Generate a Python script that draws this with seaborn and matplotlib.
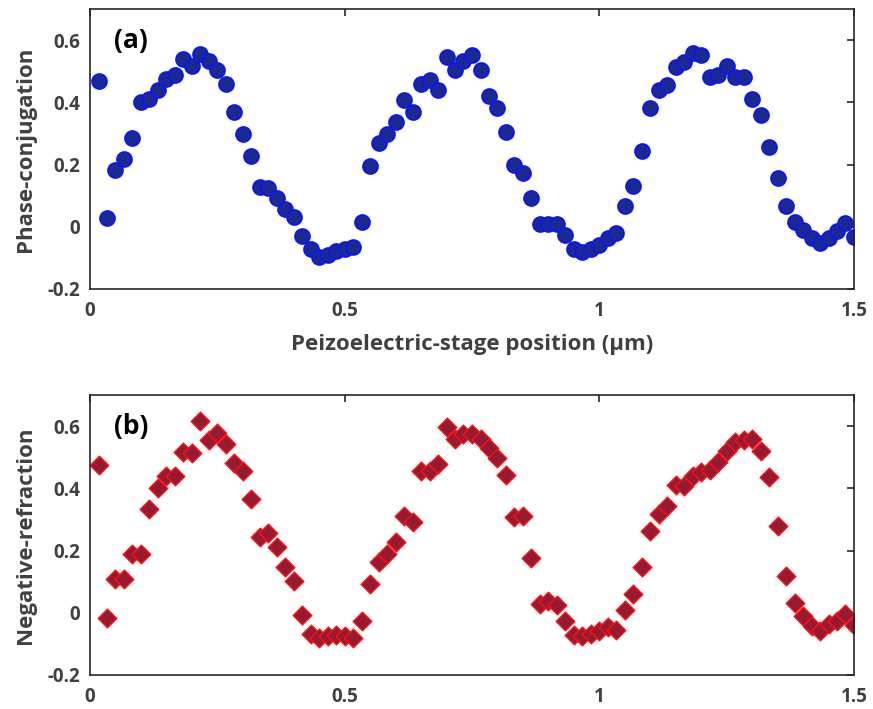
import numpy as np
import pandas as pd
import matplotlib
matplotlib.use("Agg")
import matplotlib.pyplot as plt
import seaborn as sns

# Stage positions (um), 90 equally spaced samples
position = [round(k / 60, 4) for k in range(1, 91)]

phase_conjugation = [
    0.470, 0.029, 0.181, 0.219, 0.285, 0.401, 0.412, 0.441, 0.475, 0.489,
    0.538, 0.518, 0.556, 0.534, 0.505, 0.460, 0.368, 0.298, 0.226, 0.127,
    0.124, 0.091, 0.058, 0.032, -0.030, -0.073, -0.097, -0.091, -0.078, -0.073,
    -0.065, 0.014, 0.196, 0.269, 0.299, 0.338, 0.409, 0.368, 0.460, 0.471,
    0.439, 0.546, 0.505, 0.534, 0.552, 0.505, 0.419, 0.382, 0.304, 0.197,
    0.172, 0.094, 0.008, 0.008, 0.009, -0.025, -0.070, -0.081, -0.073, -0.059,
    -0.035, -0.019, 0.068, 0.132, 0.244, 0.382, 0.441, 0.455, 0.514, 0.530,
    0.557, 0.551, 0.481, 0.489, 0.516, 0.481, 0.481, 0.412, 0.358, 0.256,
    0.156, 0.068, 0.014, -0.011, -0.035, -0.051, -0.035, -0.014, 0.011, -0.034,
]

negative_refraction = [
    0.475, -0.016, 0.107, 0.107, 0.188, 0.188, 0.332, 0.402, 0.440, 0.440,
    0.518, 0.514, 0.616, 0.554, 0.578, 0.541, 0.481, 0.456, 0.366, 0.242,
    0.258, 0.213, 0.148, 0.102, -0.006, -0.068, -0.082, -0.076, -0.070, -0.076,
    -0.082, -0.027, 0.094, 0.164, 0.189, 0.229, 0.310, 0.291, 0.456, 0.456,
    0.478, 0.597, 0.557, 0.575, 0.575, 0.559, 0.529, 0.497, 0.443, 0.307,
    0.310, 0.177, 0.029, 0.038, 0.024, -0.025, -0.070, -0.076, -0.068, -0.059,
    -0.046, -0.054, 0.010, 0.059, 0.148, 0.262, 0.316, 0.343, 0.410, 0.408,
    0.440, 0.453, 0.459, 0.485, 0.521, 0.550, 0.554, 0.559, 0.519, 0.435,
    0.278, 0.119, 0.031, -0.009, -0.044, -0.059, -0.036, -0.027, -0.003, -0.039,
]

x_ticks = [0, 0.5, 1, 1.5]
x_tick_labels = ["0", "0.5", "1", "1.5"]
y_ticks = [-0.2, 0, 0.2, 0.4, 0.6]
y_tick_labels = ["-0.2", "0", "0.2", "0.4", "0.6"]

sns.set_theme(style="white")
plt.rcParams["font.family"] = ["Open Sans", "DejaVu Sans"]

df_a = pd.DataFrame({"x": position, "y": phase_conjugation})
df_b = pd.DataFrame({"x": position, "y": negative_refraction})

fig = plt.figure(figsize=(8.73, 7.09), dpi=100)
W, H = 873, 709
ax_a = fig.add_axes([90 / W, 1 - 289 / H, 764 / W, 280 / H])
ax_b = fig.add_axes([90 / W, 1 - 675 / H, 764 / W, 280 / H])

sns.scatterplot(data=df_a, x="x", y="y", ax=ax_a, marker="o", s=115,
                color="#1b2a8c", edgecolor="#0a14ff", linewidth=1.3, legend=False)
sns.scatterplot(data=df_b, x="x", y="y", ax=ax_b, marker="D", s=90,
                color="#961a32", edgecolor="#ff1010", linewidth=1.0, legend=False)

tick_color = "#404040"
for ax in (ax_a, ax_b):
    ax.set_xlim(0, 1.5)
    ax.set_ylim(-0.2, 0.7)
    ax.set_xticks(x_ticks)
    ax.set_xticklabels(x_tick_labels)
    ax.set_yticks(y_ticks)
    ax.set_yticklabels(y_tick_labels)
    ax.tick_params(direction="in", length=5, width=1.2, color="#262626",
                   top=True, right=True, labelsize=13.5, labelcolor=tick_color)
    ax.tick_params(axis="x", pad=9)
    ax.tick_params(axis="y", pad=7)
    for lab in ax.get_xticklabels() + ax.get_yticklabels():
        lab.set_fontweight("bold")
    for sp in ax.spines.values():
        sp.set_color("#262626")
        sp.set_linewidth(1.2)
        sp.set_visible(True)
    ax.set_xlabel("")

ax_a.set_xlabel("Peizoelectric-stage position (\u03bcm)", fontsize=16,
                fontweight="bold", color=tick_color, labelpad=9)
ax_a.set_ylabel("Phase-conjugation", fontsize=16, fontweight="bold",
                color=tick_color, labelpad=8)
ax_b.set_ylabel("Negative-refraction", fontsize=16, fontweight="bold",
                color=tick_color, labelpad=8)

ax_a.text(0.032, 0.935, "(a)", transform=ax_a.transAxes, fontsize=19,
          fontweight="bold", color="black", va="top", ha="left")
ax_b.text(0.032, 0.935, "(b)", transform=ax_b.transAxes, fontsize=19,
          fontweight="bold", color="black", va="top", ha="left")

fig.savefig("out.png", dpi=100)
